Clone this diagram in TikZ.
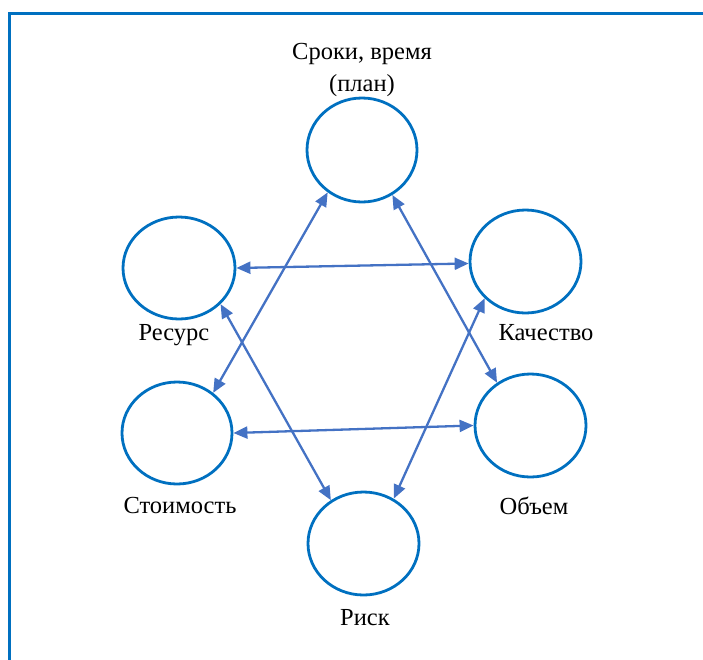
\documentclass[tikz,border=0pt]{standalone}
\usepackage{fontspec}
\setmainfont{Liberation Serif}
\usetikzlibrary{shapes.geometric,arrows.meta}
\definecolor{ringblue}{HTML}{0070C0}
\definecolor{arrowblue}{HTML}{4472C4}
\begin{document}
\begin{tikzpicture}[x=1pt,y=-1pt,
  ring/.style={ellipse,draw=ringblue,line width=2.8pt,inner sep=0pt},
  lbl/.style={font=\fontsize{24.5}{32}\selectfont,inner sep=0pt,align=center},
  link/.style={draw=arrowblue,line width=2.3pt,{Triangle[length=14pt,width=12pt]}-{Triangle[length=14pt,width=12pt]}}]
\useasboundingbox (0,0) rectangle (703,659);
\begin{scope}
\clip (0,0) rectangle (703,659);
\draw[ringblue,line width=3pt] (9.5,700) -- (9.5,13.5) -- (720,13.5);
\end{scope}
\node[ring,minimum width=110pt,minimum height=104pt] (T) at (362,150) {};
\node[ring,minimum width=112pt,minimum height=102pt] (R) at (179,268) {};
\node[ring,minimum width=111pt,minimum height=103pt] (K) at (525.5,261.5) {};
\node[ring,minimum width=110pt,minimum height=102pt] (S) at (177,433) {};
\node[ring,minimum width=111pt,minimum height=103pt] (O) at (530.5,425.5) {};
\node[ring,minimum width=111pt,minimum height=103pt] (Ri) at (363.5,543.5) {};
\node[lbl] (tT) at (362,70) {Сроки, время\\(план)};
\node[lbl] (tR) at (174,335) {Ресурс};
\node[lbl] (tK) at (546,333) {Качество};
\node[lbl] (tS) at (180,505) {Стоимость};
\node[lbl] (tO) at (534,506) {Объем};
\node[lbl] (tRi) at (365,618) {Риск};
\draw[link] (R.east) -- (K.182);
\draw[link] (S.east) -- (O.west);
\draw[link] (T.231.7) -- (S.48);
\draw[link] (T.304.6) -- (O.128.2);
\draw[link] (R.-41) -- (Ri.127.6);
\draw[link] (K.222.7) -- (Ri.56.8);
\end{tikzpicture}
\end{document}
